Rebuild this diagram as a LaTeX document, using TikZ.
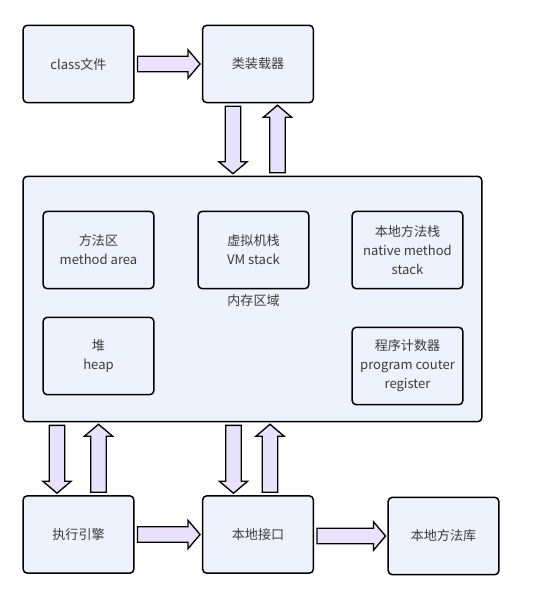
\documentclass[tikz,border=0pt]{standalone}
\usepackage{fontspec}
\setmainfont{Noto Sans CJK SC}
\usepackage{tikz}
\usetikzlibrary{calc,positioning}
\definecolor{BoxFill}{RGB}{238,242,252}
\definecolor{ArrowFill}{RGB}{232,226,252}
\definecolor{TextGray}{RGB}{60,60,60}

\tikzset{
  unit/.style={draw=black, fill=BoxFill, line width=1.1pt, rounded corners=3pt,
    minimum width=83pt, minimum height=58pt, align=center, text=TextGray,
    font=\fontsize{9.8pt}{14.3pt}\selectfont},
  arrowbody/.style={draw=black, fill=ArrowFill, line width=1pt, line join=miter}
}
% block arrow from #1 to #2
\newcommand{\blockarrow}[2]{%
  \draw[arrowbody] let \p1=($(#2)-(#1)$), \n1={veclen(\x1,\y1)-1.4pt}, \n2={atan2(\y1,\x1)} in
    [shift={(#1)}, rotate=\n2]
    (2.2pt,-5.8pt) -- ({\n1-9pt},-5.8pt) -- ({\n1-9pt},-10.6pt) -- (\n1,0)
    -- ({\n1-9pt},10.6pt) -- ({\n1-9pt},5.8pt) -- (2.2pt,5.8pt) -- cycle;}

\begin{document}
\begin{tikzpicture}[x=0.75pt, y=-0.75pt]
  \useasboundingbox (0,0) rectangle (557,599);
  % outer row
  \node[unit] (cls) at (78.5,64) {class文件};
  \node[unit] (ldr) at (258,64) {类装载器};
  \node[unit, minimum width=344pt, minimum height=184pt] (mem) at (252.5,299) {};
  \node[unit] (exe) at (78.5,534.5) {执行引擎};
  \node[unit] (jni) at (258,534.5) {本地接口};
  \node[unit] (lib) at (443.5,536) {本地方法库};
  % memory areas
  \node[unit] (ma) at (98.5,250) {方法区\\method area};
  \node[unit] (vm) at (253.5,250) {虚拟机栈\\VM stack};
  \node[unit] (nm) at (407.5,250) {本地方法栈\\native method\\stack};
  \node[unit] (heap) at (98.5,356) {堆\\heap};
  \node[unit] (pc) at (407.5,366) {程序计数器\\program couter\\register};
  \node[text=TextGray, font=\fontsize{9.8pt}{12pt}\selectfont, below=0pt of vm] (memlbl) {内存区域};
  % arrows
  \coordinate (ld) at ($(ldr.south)+(-25,0)$);
  \coordinate (lu) at ($(ldr.south)+(19.5,0)$);
  \coordinate (ed) at ($(exe.north)+(-21.5,0)$);
  \coordinate (eu) at ($(exe.north)+(20,0)$);
  \coordinate (jd) at ($(jni.north)+(-24.5,0)$);
  \coordinate (ju) at ($(jni.north)+(12,0)$);
  \blockarrow{cls.east}{ldr.west}
  \blockarrow{ld}{ld |- mem.north}
  \blockarrow{lu |- mem.north}{lu}
  \blockarrow{ed |- mem.south}{ed}
  \blockarrow{eu}{eu |- mem.south}
  \blockarrow{jd |- mem.south}{jd}
  \blockarrow{ju}{ju |- mem.south}
  \blockarrow{exe.east}{jni.west}
  \blockarrow{jni.east |- lib.west}{lib.west}
\end{tikzpicture}
\end{document}
